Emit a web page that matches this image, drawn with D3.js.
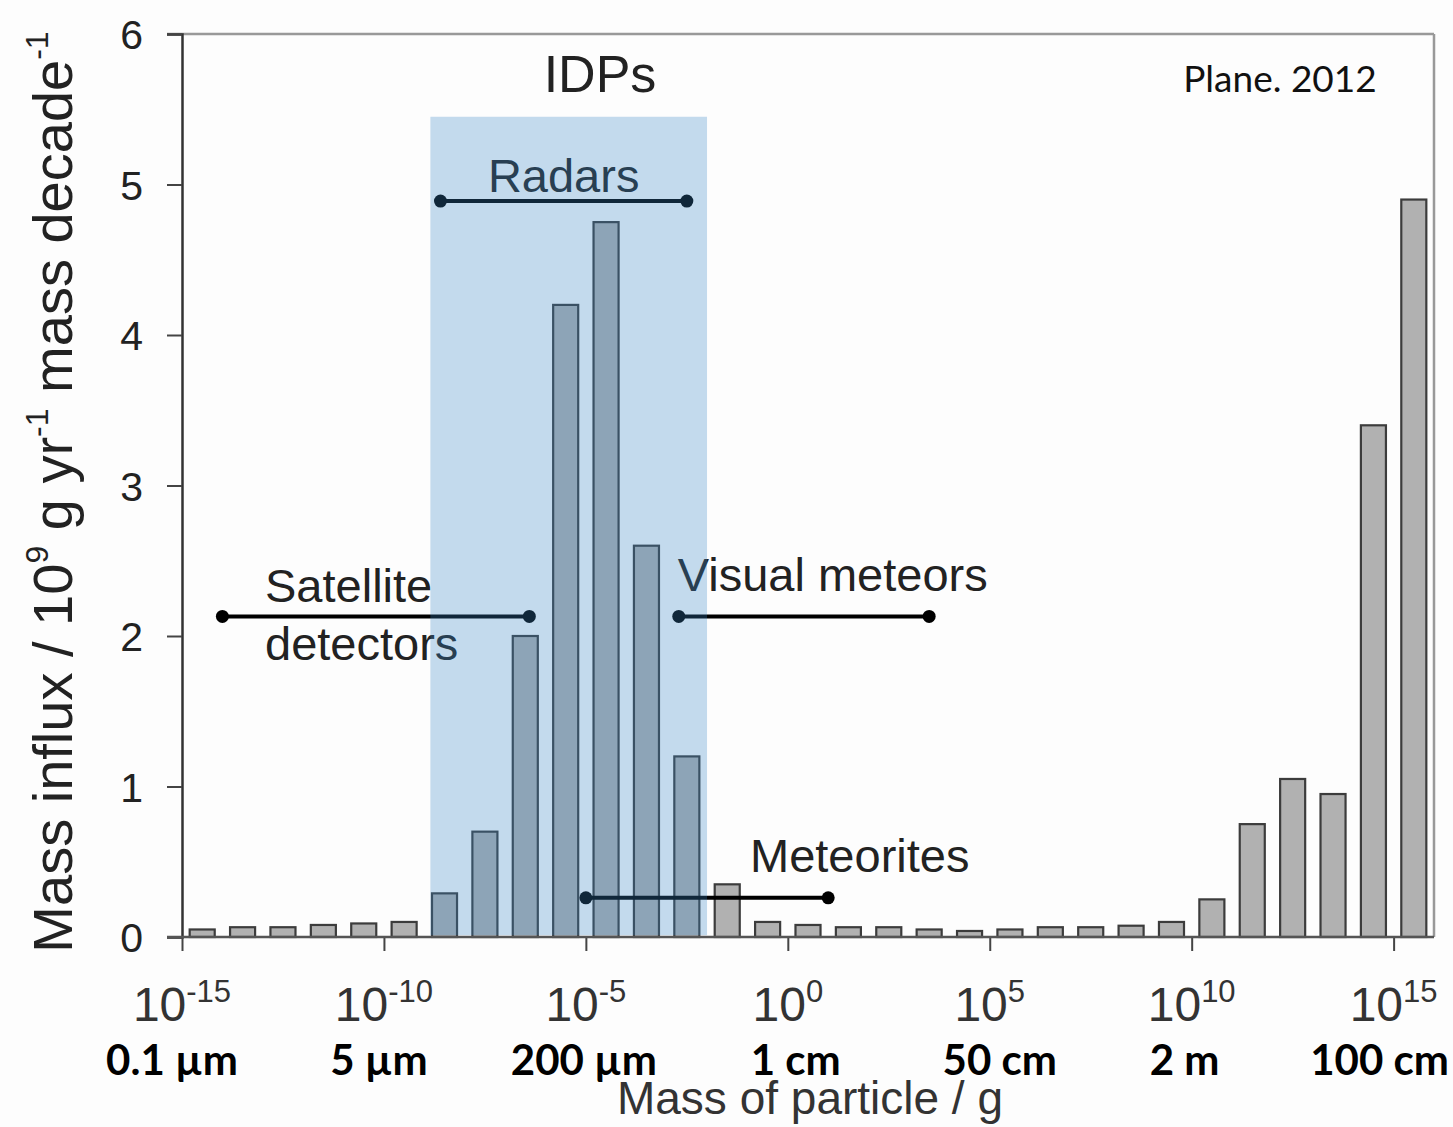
<!DOCTYPE html>
<html>
<head>
<meta charset="utf-8">
<script src="https://cdn.jsdelivr.net/npm/d3@7"></script>
<style>
  body { margin: 0; background: #fdfdfd; }
  svg { display: block; }
</style>
</head>
<body>
<svg id="chart" width="1453" height="1127" font-family="Liberation Sans, Arial, sans-serif"></svg>
<script>
// decade bins: bar i covers 10^(binStarts[i]) .. 10^(binStarts[i]+1) g
const binStarts = d3.range(-15, 16);
const influx = [0.05, 0.065, 0.065, 0.08, 0.09, 0.1, 0.29, 0.7, 2.0, 4.2, 4.75, 2.6, 1.2, 0.35,
                0.1, 0.08, 0.065, 0.065, 0.05, 0.04, 0.05, 0.065, 0.065, 0.075, 0.1, 0.25,
                0.75, 1.05, 0.95, 3.4, 4.9];
const xTickExps = [-15, -10, -5, 0, 5, 10, 15];
const sizeLabels = ["0.1 µm", "5 µm", "200 µm", "1 cm", "50 cm", "2 m", "100 cm"];
const yTicks = [0, 1, 2, 3, 4, 5, 6];

// measurement techniques: mass range (log10 g) and level on the y axis
const techniques = [
    { name: ["Radars"], from: -8.6, to: -2.5, level: 4.89 },
    { name: ["Satellite", "detectors"], from: -14, to: -6.4, level: 2.13 },
    { name: ["Visual meteors"], from: -2.7, to: 3.5, level: 2.13 },
    { name: ["Meteorites"], from: -5, to: 1, level: 0.26 }
];
const idpRange = [-8.85, -2.0];
const idpTop = 5.45;

const margin = { left: 182, right: 19, top: 34, bottom: 190 };
const width = 1453, height = 1127;

const svg = d3.select("#chart");

const x = d3.scaleLinear()
    .domain([-15, 16])
    .range([margin.left, width - margin.right]);

const y = d3.scaleLinear()
    .domain([0, 6])
    .range([height - margin.bottom, margin.top]);

const xBand = d3.scaleBand()
    .domain(binStarts)
    .range([x(-15), x(16)])
    .paddingInner(0.38)
    .paddingOuter(0.19);

// frame top and right
svg.append("line")
    .attr("x1", margin.left - 15).attr("x2", x(16))
    .attr("y1", y(6)).attr("y2", y(6))
    .attr("stroke", "#999").attr("stroke-width", 2.5);
svg.append("line")
    .attr("x1", x(16)).attr("x2", x(16))
    .attr("y1", y(6)).attr("y2", y(0))
    .attr("stroke", "#999").attr("stroke-width", 2.5);

// bars
svg.append("g")
    .selectAll("rect")
    .data(binStarts)
    .join("rect")
    .attr("x", d => xBand(d))
    .attr("width", xBand.bandwidth())
    .attr("y", (d, i) => y(influx[i]))
    .attr("height", (d, i) => y(0) - y(influx[i]))
    .attr("fill", "#b1b1b1")
    .attr("stroke", "#3c3c3c")
    .attr("stroke-width", 2.2);

// y axis
const yAxis = svg.append("g")
    .attr("transform", `translate(${margin.left},0)`)
    .call(d3.axisLeft(y).tickValues(yTicks).tickFormat(d3.format("d")).tickSize(15).tickPadding(24));
yAxis.select(".domain").attr("stroke", "#333").attr("stroke-width", 2.5);
yAxis.selectAll(".tick line").attr("stroke", "#444").attr("stroke-width", 2);
yAxis.selectAll(".tick text")
    .attr("font-size", 41)
    .attr("font-family", "Liberation Sans, Arial, sans-serif")
    .attr("fill", "#222")
    .attr("dy", "0.36em");

// x axis
const xAxis = svg.append("g")
    .attr("transform", `translate(0,${y(0)})`)
    .call(d3.axisBottom(x).tickValues(xTickExps).tickSize(14).tickFormat(""));
xAxis.select(".domain").remove();
xAxis.selectAll(".tick line").attr("stroke", "#444").attr("stroke-width", 2);
svg.append("line")
    .attr("x1", margin.left - 15).attr("x2", x(16))
    .attr("y1", y(0)).attr("y2", y(0))
    .attr("stroke", "#555").attr("stroke-width", 2.5);

const powLabels = svg.append("g")
    .selectAll("text")
    .data(xTickExps)
    .join("text")
    .attr("x", d => x(d))
    .attr("y", 1021)
    .attr("text-anchor", "middle")
    .attr("font-size", 48)
    .attr("fill", "#333");
powLabels.append("tspan").text("10");
powLabels.append("tspan")
    .attr("font-size", 31)
    .attr("dy", -19)
    .text(d => d);

// size labels sit a little off their ticks in the original
const labelNudge = [-10, -5, -2, 8, 10, -7, -14];
svg.append("g")
    .selectAll("text")
    .data(sizeLabels)
    .join("text")
    .attr("x", (d, i) => x(xTickExps[i]) + labelNudge[i])
    .attr("y", 1075)
    .attr("text-anchor", "middle")
    .style("font-family", "Lato, sans-serif")
    .style("font-weight", "bold")
    .attr("font-size", 42)
    .attr("fill", "#000")
    .text(d => d);

svg.append("text")
    .attr("x", 810)
    .attr("y", 1114)
    .attr("text-anchor", "middle")
    .attr("font-size", 46)
    .attr("fill", "#333")
    .text("Mass of particle / g");

// y title
const yTitle = svg.append("text")
    .attr("transform", "translate(72,492) rotate(-90)")
    .attr("text-anchor", "middle")
    .attr("font-size", 56)
    .attr("fill", "#222");
yTitle.append("tspan").text("Mass influx / 10");
yTitle.append("tspan").attr("font-size", 32).attr("dy", -24).text("9");
yTitle.append("tspan").attr("dy", 24).text("  g yr");
yTitle.append("tspan").attr("font-size", 32).attr("dy", -24).text("-1");
yTitle.append("tspan").attr("dy", 24).text("  mass decade");
yTitle.append("tspan").attr("font-size", 32).attr("dy", -24).text("-1");

// technique ranges
const tech = svg.append("g").selectAll("g")
    .data(techniques)
    .join("g");
tech.append("line")
    .attr("x1", d => x(d.from)).attr("x2", d => x(d.to))
    .attr("y1", d => y(d.level)).attr("y2", d => y(d.level))
    .attr("stroke", "#000").attr("stroke-width", 4);
tech.selectAll("circle")
    .data(d => [[d.from, d.level], [d.to, d.level]])
    .join("circle")
    .attr("cx", d => x(d[0])).attr("cy", d => y(d[1]))
    .attr("r", 6.5).attr("fill", "#000");

const labelStyle = sel => sel.attr("font-size", 47).attr("fill", "#222");
// Radars: centred above its bar
svg.append("text").call(labelStyle)
    .attr("x", x((techniques[0].from + techniques[0].to) / 2))
    .attr("y", y(techniques[0].level) - 9)
    .attr("text-anchor", "middle")
    .text(techniques[0].name[0]);
// Satellite detectors: two lines around its bar
svg.append("text").call(labelStyle)
    .attr("x", 265).attr("y", y(techniques[1].level) - 14)
    .text(techniques[1].name[0]);
svg.append("text").call(labelStyle)
    .attr("x", 265).attr("y", y(techniques[1].level) + 44)
    .text(techniques[1].name[1]);
// Visual meteors
svg.append("text").call(labelStyle)
    .attr("x", x(techniques[2].from) - 1).attr("y", y(techniques[2].level) - 25)
    .text(techniques[2].name[0]);
// Meteorites
svg.append("text").call(labelStyle)
    .attr("x", 750).attr("y", y(techniques[3].level) - 26)
    .text(techniques[3].name[0]);

svg.append("text")
    .attr("x", 600).attr("y", 92)
    .attr("text-anchor", "middle")
    .attr("font-size", 52)
    .attr("fill", "#222")
    .text("IDPs");

svg.append("text")
    .attr("x", 1280).attr("y", 92)
    .attr("text-anchor", "middle")
    .style("font-family", "Lato, sans-serif")
    .attr("font-size", 37)
    .attr("fill", "#111")
    .text("Plane. 2012");

// IDP mass range, laid over bars and ranges
svg.append("rect")
    .attr("x", x(idpRange[0]))
    .attr("width", x(idpRange[1]) - x(idpRange[0]))
    .attr("y", y(idpTop))
    .attr("height", y(0.012) - y(idpTop))
    .attr("fill", "rgb(55,134,200)")
    .attr("fill-opacity", 0.29);
</script>
</body>
</html>
